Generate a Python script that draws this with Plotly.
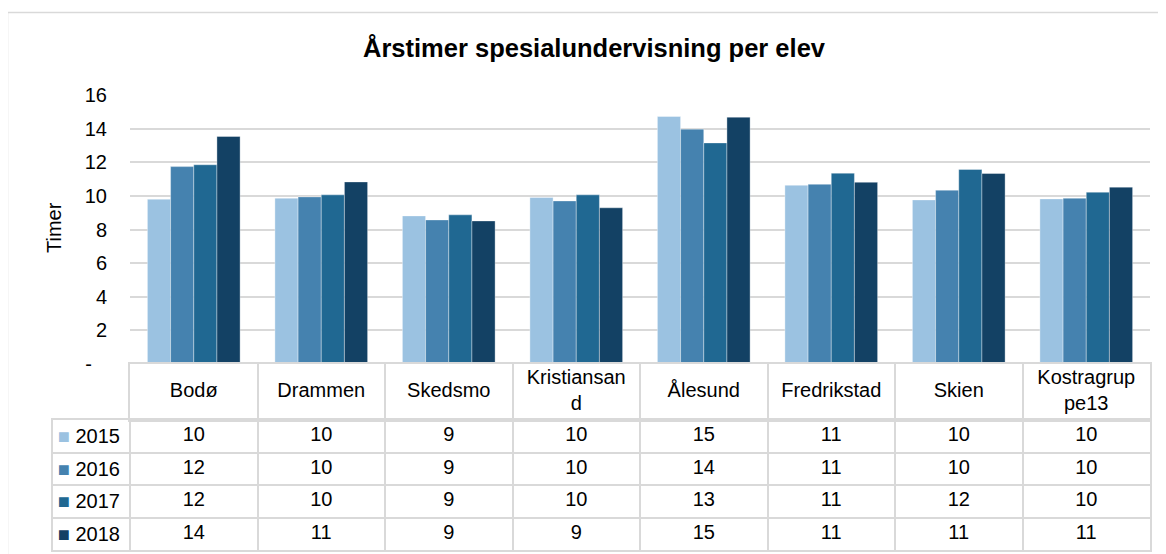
import plotly.graph_objects as go

# ---------------- data ----------------
categories = ["Bodø", "Drammen", "Skedsmo", "Kristiansand", "Ålesund",
              "Fredrikstad", "Skien", "Kostragruppe13"]
header_labels = ["Bodø", "Drammen", "Skedsmo", "Kristiansan<br>d", "Ålesund",
                 "Fredrikstad", "Skien", "Kostragrup<br>pe13"]
years = ["2015", "2016", "2017", "2018"]
v2015 = [9.80, 9.86, 8.81, 9.90, 14.72, 10.63, 9.76, 9.82]
v2016 = [11.74, 9.94, 8.57, 9.70, 13.97, 10.69, 10.34, 9.86]
v2017 = [11.85, 10.06, 8.87, 10.06, 13.15, 11.35, 11.57, 10.22]
v2018 = [13.53, 10.83, 8.51, 9.29, 14.68, 10.81, 11.33, 10.52]
series_values = [v2015, v2016, v2017, v2018]
colors = ["#9BC2E1", "#4582AF", "#206892", "#134164"]
y_tickvals = [0, 2, 4, 6, 8, 10, 12, 14, 16]
y_ticktext = ["-\u00a0\u00a0\u2009", "2", "4", "6", "8", "10", "12", "14", "16"]
title_text = "Årstimer spesialundervisning per elev"
y_title = "Timer"

# ---------------- layout helpers ----------------
W, H = 1166, 554
OFF = 8  # page body margin in the browser
FONT = "Liberation Sans, Arial, sans-serif"
GRID = "#D9D9D9"


def px_x(p):
    return (p - OFF) / W


def px_y(p):
    return 1 - (p - OFF) / H


plot_left, plot_right = 130, 1150
table_left = 53
bars_top, bars_bottom = 95, 364
header_bottom = 420
table_bottom = 550

# left label column width expressed in category units
cat_w = (plot_right - plot_left) / len(categories)
left_col_units = (plot_left - table_left) / cat_w

fig = go.Figure()

# bars
for yr, vals, col in zip(years, series_values, colors):
    fig.add_trace(go.Bar(
        x=categories, y=vals, name=yr,
        marker=dict(color=col, line=dict(color="rgba(255,255,255,0.45)", width=0.8)),
        xaxis="x", yaxis="y", hoverinfo="x+y+name",
    ))

# header row text
fig.add_trace(go.Scatter(
    x=categories, y=[0.5] * len(categories), text=header_labels,
    mode="text", textposition="middle center",
    textfont=dict(family=FONT, size=20, color="#000000"),
    xaxis="x2", yaxis="y2", hoverinfo="skip", showlegend=False, cliponaxis=False,
))

# table body values
for yr, vals in zip(years, series_values):
    fig.add_trace(go.Scatter(
        x=categories, y=[yr] * len(categories),
        text=[f"{v:.0f}" for v in vals],
        mode="text", textposition="middle center",
        textfont=dict(family=FONT, size=20, color="#000000"),
        xaxis="x3", yaxis="y3", hoverinfo="skip", showlegend=False, cliponaxis=False,
    ))

year_ticktext = [f"<span style='color:{c}'>■</span> {y}" for y, c in zip(years, colors)]

common = dict(automargin=False, fixedrange=True, zeroline=False)

fig.update_layout(
    width=W, height=H, autosize=False,
    margin=dict(l=0, r=0, t=0, b=0, pad=0, autoexpand=False),
    paper_bgcolor="white", plot_bgcolor="rgba(0,0,0,0)",
    showlegend=False,
    barmode="group", bargap=0.273, bargroupgap=0,
    font=dict(family=FONT, size=20, color="#000000"),
    title=dict(text=f"<b>{title_text}</b>", x=px_x(594), xanchor="center",
               y=px_y(48), yanchor="middle",
               font=dict(family=FONT, size=25.5, color="#000000")),
    xaxis=dict(domain=[px_x(plot_left), px_x(plot_right)], type="category",
               categoryarray=categories, categoryorder="array",
               range=[-0.5, len(categories) - 0.5],
               showticklabels=False, showgrid=False, showline=False,
               ticks="", anchor="y", **common),
    yaxis=dict(domain=[px_y(bars_bottom), px_y(bars_top)], range=[0, 16],
               tickvals=y_tickvals, ticktext=y_ticktext,
               showgrid=True, gridcolor=GRID, gridwidth=1.5,
               showline=False, ticks="",
               ticklabelstandoff=22, tickfont=dict(family=FONT, size=20, color="#000000"),
               anchor="x", **common),
    xaxis2=dict(domain=[px_x(plot_left), px_x(plot_right)], type="category",
                categoryarray=categories, categoryorder="array",
                range=[-0.5, len(categories) - 0.5],
                tickson="boundaries", showgrid=True, gridcolor=GRID, gridwidth=1.5,
                showline=True, mirror=True, linecolor=GRID, linewidth=1.5,
                showticklabels=False, ticks="",
                anchor="y2", **common),
    yaxis2=dict(domain=[px_y(header_bottom), px_y(bars_bottom)], range=[0, 1],
                showgrid=False, showticklabels=False, ticks="",
                showline=True, mirror=True, linecolor=GRID, linewidth=1.5,
                anchor="x2", **common),
    xaxis3=dict(domain=[px_x(table_left), px_x(plot_right)], type="category",
                categoryarray=categories, categoryorder="array",
                range=[-0.5 - left_col_units, len(categories) - 0.5],
                tickson="boundaries", showgrid=True, gridcolor=GRID, gridwidth=1.5,
                showline=True, mirror=True, linecolor=GRID, linewidth=1.5,
                showticklabels=False, ticks="",
                anchor="y3", **common),
    yaxis3=dict(domain=[px_y(table_bottom), px_y(header_bottom)], type="category",
                categoryarray=years, categoryorder="array",
                range=[len(years) - 0.5, -0.5],
                tickson="boundaries", showgrid=True, gridcolor=GRID, gridwidth=1.5,
                showline=True, mirror=True, linecolor=GRID, linewidth=1.5,
                tickvals=years, ticktext=year_ticktext,
                ticklabelposition="inside", ticklabelstandoff=6, ticks="",
                tickfont=dict(family=FONT, size=20, color="#000000"),
                anchor="x3", **common),
    annotations=[dict(text=y_title, xref="paper", yref="paper",
                      x=px_x(54), y=px_y(228), textangle=-90, showarrow=False,
                      xanchor="center", yanchor="middle",
                      font=dict(family=FONT, size=20, color="#000000"))],
    shapes=[dict(type="rect", xref="paper", yref="paper",
                 x0=px_x(7.5), x1=px_x(1175), y0=px_y(12.5), y1=px_y(570),
                 line=dict(color=GRID, width=1.5), fillcolor="rgba(0,0,0,0)",
                 layer="below")],
)

fig.write_html("out.html")
